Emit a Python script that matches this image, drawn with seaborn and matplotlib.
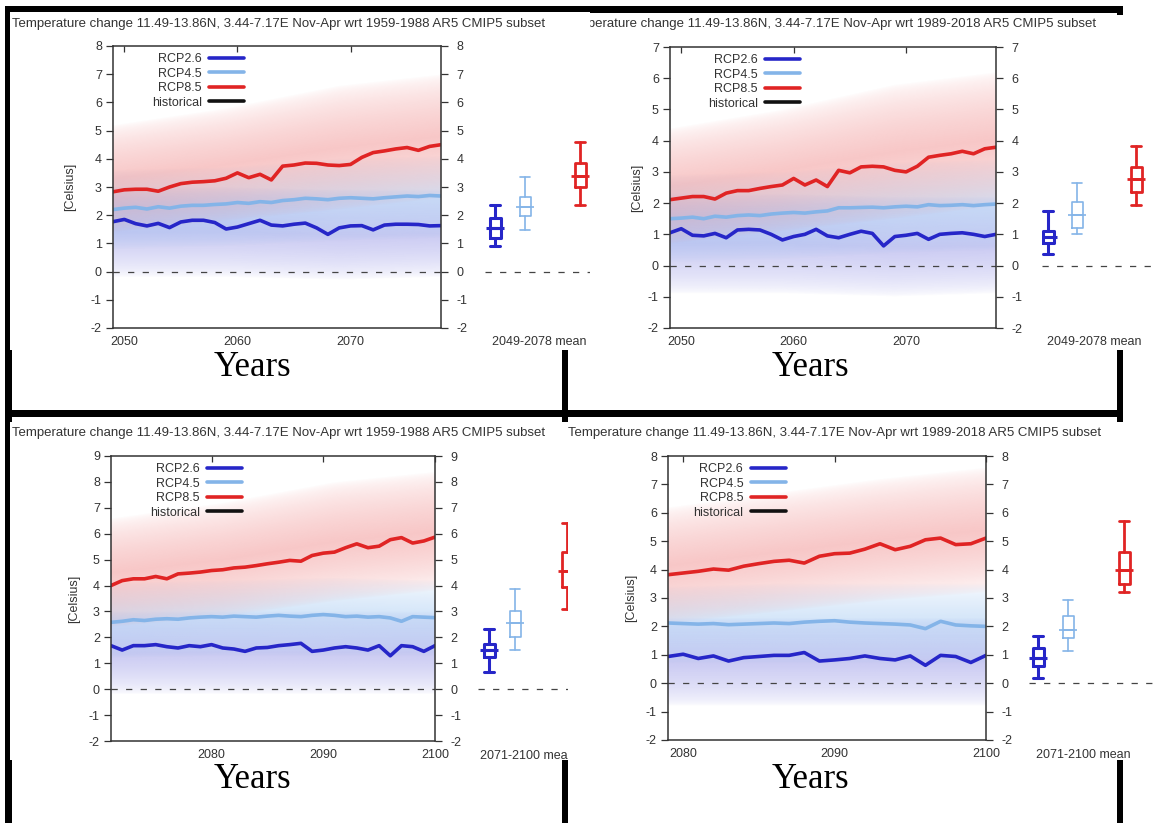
import matplotlib
matplotlib.use("Agg")
import matplotlib.pyplot as plt
from matplotlib.colors import to_rgb
from matplotlib.lines import Line2D
from matplotlib.patches import Rectangle
import numpy as np
import seaborn as sns

W, H = 1155, 823

# ---------------- data ----------------
tl_years = list(range(2049, 2079))
tl_rcp85 = [2.83, 2.90, 2.92, 2.92, 2.85, 3.00, 3.12, 3.17, 3.19, 3.22, 3.31, 3.50, 3.33, 3.45, 3.25,
            3.74, 3.78, 3.85, 3.84, 3.78, 3.76, 3.80, 4.05, 4.22, 4.28, 4.35, 4.40, 4.30, 4.44, 4.50]
tl_rcp45 = [2.20, 2.25, 2.28, 2.22, 2.30, 2.25, 2.32, 2.35, 2.35, 2.38, 2.40, 2.45, 2.42, 2.48, 2.45,
            2.52, 2.55, 2.60, 2.58, 2.55, 2.60, 2.62, 2.60, 2.58, 2.62, 2.65, 2.68, 2.66, 2.70, 2.68]
tl_rcp26 = [1.77, 1.85, 1.70, 1.62, 1.71, 1.56, 1.76, 1.82, 1.82, 1.74, 1.51, 1.58, 1.70, 1.82, 1.65,
            1.62, 1.68, 1.72, 1.55, 1.32, 1.55, 1.62, 1.63, 1.48, 1.65, 1.68, 1.68, 1.67, 1.62, 1.63]

tr_years = list(range(2049, 2079))
tr_rcp85 = [2.11, 2.16, 2.21, 2.21, 2.13, 2.32, 2.40, 2.40, 2.47, 2.53, 2.58, 2.79, 2.58, 2.74, 2.53,
            3.05, 2.97, 3.16, 3.18, 3.16, 3.05, 3.00, 3.18, 3.47, 3.53, 3.58, 3.66, 3.58, 3.74, 3.79]
tr_rcp45 = [1.50, 1.52, 1.55, 1.50, 1.58, 1.55, 1.60, 1.62, 1.60, 1.65, 1.68, 1.70, 1.68, 1.72, 1.75,
            1.85, 1.85, 1.86, 1.87, 1.85, 1.88, 1.90, 1.88, 1.95, 1.92, 1.93, 1.95, 1.92, 1.95, 1.97]
tr_rcp26 = [1.05, 1.18, 0.97, 0.95, 1.03, 0.89, 1.14, 1.16, 1.14, 1.00, 0.82, 0.93, 1.00, 1.16, 0.95,
            0.89, 1.00, 1.10, 1.03, 0.63, 0.93, 0.97, 1.03, 0.84, 1.00, 1.03, 1.05, 1.00, 0.93, 1.00]

bl_years = list(range(2071, 2101))
bl_rcp85 = [4.00, 4.19, 4.26, 4.26, 4.35, 4.26, 4.45, 4.48, 4.52, 4.58, 4.61, 4.68, 4.71, 4.77, 4.84,
            4.90, 4.97, 4.94, 5.16, 5.25, 5.29, 5.46, 5.61, 5.46, 5.52, 5.77, 5.85, 5.64, 5.72, 5.87]
bl_rcp45 = [2.58, 2.62, 2.68, 2.65, 2.70, 2.72, 2.70, 2.75, 2.78, 2.80, 2.78, 2.82, 2.80, 2.78, 2.82,
            2.85, 2.82, 2.80, 2.85, 2.88, 2.85, 2.80, 2.82, 2.78, 2.80, 2.75, 2.62, 2.80, 2.78, 2.76]
bl_rcp26 = [1.68, 1.51, 1.68, 1.68, 1.72, 1.64, 1.59, 1.68, 1.64, 1.72, 1.59, 1.55, 1.46, 1.59, 1.61,
            1.68, 1.72, 1.77, 1.46, 1.51, 1.59, 1.64, 1.59, 1.51, 1.68, 1.29, 1.68, 1.64, 1.46, 1.68]

br_years = list(range(2079, 2101))
br_rcp85 = [3.82, 3.88, 3.94, 4.02, 3.98, 4.12, 4.21, 4.29, 4.33, 4.23, 4.47, 4.56, 4.58, 4.72, 4.91,
            4.70, 4.82, 5.05, 5.11, 4.88, 4.91, 5.11]
br_rcp45 = [2.12, 2.10, 2.08, 2.10, 2.06, 2.08, 2.10, 2.12, 2.10, 2.15, 2.18, 2.20, 2.15, 2.12, 2.10,
            2.08, 2.05, 1.92, 2.18, 2.05, 2.02, 2.00]
br_rcp26 = [0.94, 1.02, 0.87, 0.96, 0.78, 0.90, 0.94, 0.98, 0.98, 1.08, 0.78, 0.82, 0.87, 0.96, 0.87,
            0.82, 0.96, 0.63, 0.98, 0.94, 0.73, 0.98]

# ensemble spread (rough envelope of the thin member lines)
tl_band_years = [2049, 2059, 2069, 2078]
tl_rcp85_lo, tl_rcp85_hi = [1.4, 1.8, 2.2, 2.6], [5.2, 5.8, 6.6, 7.0]
tl_rcp45_lo, tl_rcp45_hi = [0.8, 0.9, 1.1, 1.2], [3.6, 3.7, 4.0, 4.1]
tl_rcp26_lo, tl_rcp26_hi = [-0.2, -0.2, -0.3, -0.2], [3.0, 3.0, 2.9, 2.9]

tr_band_years = [2049, 2059, 2069, 2078]
tr_rcp85_lo, tr_rcp85_hi = [0.7, 1.1, 1.5, 1.9], [4.4, 5.0, 5.8, 6.2]
tr_rcp45_lo, tr_rcp45_hi = [0.1, 0.2, 0.4, 0.5], [2.9, 3.0, 3.3, 3.4]
tr_rcp26_lo, tr_rcp26_hi = [-0.9, -0.9, -1.0, -0.9], [2.3, 2.3, 2.2, 2.2]

bl_band_years = [2071, 2081, 2091, 2100]
bl_rcp85_lo, bl_rcp85_hi = [2.4, 2.8, 3.4, 3.8], [6.6, 7.2, 8.0, 8.4]
bl_rcp45_lo, bl_rcp45_hi = [1.2, 1.3, 1.3, 1.3], [4.1, 4.2, 4.3, 4.2]
bl_rcp26_lo, bl_rcp26_hi = [-0.2, -0.2, -0.2, -0.2], [3.0, 3.0, 3.0, 3.0]

br_band_years = [2079, 2086, 2093, 2100]
br_rcp85_lo, br_rcp85_hi = [2.1, 2.5, 2.9, 3.2], [6.2, 6.7, 7.2, 7.6]
br_rcp45_lo, br_rcp45_hi = [0.7, 0.7, 0.7, 0.7], [3.4, 3.5, 3.5, 3.5]
br_rcp26_lo, br_rcp26_hi = [-0.8, -0.8, -0.8, -0.8], [2.3, 2.3, 2.3, 2.3]

# box plots: whisker low, q1, median, q3, whisker high
tl_box = {"RCP2.6": [0.91, 1.19, 1.55, 1.90, 2.36], "RCP4.5": [1.48, 1.97, 2.29, 2.65, 3.35],
          "RCP8.5": [2.36, 3.00, 3.39, 3.85, 4.60]}
tr_box = {"RCP2.6": [0.37, 0.73, 0.90, 1.10, 1.74], "RCP4.5": [1.00, 1.21, 1.62, 2.02, 2.63],
          "RCP8.5": [1.94, 2.36, 2.77, 3.16, 3.83]}
bl_box = {"RCP2.6": [0.68, 1.23, 1.51, 1.74, 2.32], "RCP4.5": [1.51, 2.03, 2.54, 3.03, 3.87],
          "RCP8.5": [3.10, 3.94, 4.58, 5.30, 6.40]}
br_box = {"RCP2.6": [0.20, 0.60, 0.90, 1.24, 1.67], "RCP4.5": [1.13, 1.59, 1.88, 2.35, 2.93],
          "RCP8.5": [3.22, 3.51, 4.00, 4.62, 5.72]}

title_1959 = "Temperature change 11.49-13.86N, 3.44-7.17E Nov-Apr wrt 1959-1988 AR5 CMIP5 subset"
title_1989 = "Temperature change 11.49-13.86N, 3.44-7.17E Nov-Apr wrt 1989-2018 AR5 CMIP5 subset"

colors = {"RCP2.6": "#2626c8", "RCP4.5": "#84b4e8", "RCP8.5": "#e02424", "historical": "#111111"}
band_colors = {"RCP2.6": ("#5a5ad8", 0.32), "RCP4.5": ("#8fbdf0", 0.40), "RCP8.5": ("#ee7a7a", 0.42)}
box_lw = {"RCP2.6": 2.2, "RCP4.5": 1.2, "RCP8.5": 2.0}
TXT = "#333333"


def fig_rect(x0, y0, x1, y1):
    return [x0 / W, 1 - y1 / H, (x1 - x0) / W, (y1 - y0) / H]


def soft_band(ax, xs, lo, hi, color, amax, xlim, ylim):
    # haze standing in for the spaghetti of thin member lines: opaque in the
    # middle of the envelope, fading out towards its edges
    gx = np.linspace(xlim[0], xlim[1], 320)
    gy = np.linspace(ylim[0], ylim[1], 420)
    low = np.interp(gx, xs, lo)
    high = np.interp(gx, xs, hi)
    t = (gy[:, None] - low[None, :]) / (high - low)[None, :]
    a = np.clip(1 - np.abs(2 * t - 1), 0, 1) ** 0.6 * amax
    rgba = np.zeros((gy.size, gx.size, 4))
    rgba[..., :3] = to_rgb(color)
    rgba[..., 3] = a
    ax.imshow(rgba, extent=(xlim[0], xlim[1], ylim[0], ylim[1]), origin="lower",
              aspect="auto", interpolation="bilinear", zorder=1)


def draw_panel(fig, p):
    z = p["z"]
    ix0, iy0, ix1, iy1 = p["image"]
    bg = fig.add_axes(fig_rect(*p["image"]), zorder=z)
    bg.set_xlim(ix0, ix1)
    bg.set_ylim(iy1, iy0)
    bg.set_xticks([])
    bg.set_yticks([])
    for s in bg.spines.values():
        s.set_visible(False)
    bg.set_facecolor("white")
    bg.text(p["title_x"], p["title_y"], p["title"], fontsize=9.5, color=TXT,
            ha="left", va="center", clip_on=True)
    bg.text(p["box_label_x"], p["box_label_y"], p["box_label"], fontsize=9, color=TXT,
            ha="left", va="center", clip_on=True)

    ax = fig.add_axes(fig_rect(*p["axes"]), zorder=z + 0.1)
    ax.set_facecolor("white")
    for key in ["RCP2.6", "RCP4.5", "RCP8.5"]:
        c, a = band_colors[key]
        soft_band(ax, p["band_years"], p["lo"][key], p["hi"][key], c, a, p["xlim"], p["ylim"])
    ax.axhline(0, color="#444444", lw=0.9, ls=(0, (4.5, 6)), zorder=2)
    for key in ["RCP4.5", "RCP2.6", "RCP8.5"]:
        sns.lineplot(x=p["years"], y=p["mean"][key], ax=ax, color=colors[key], lw=2.6,
                     legend=False, zorder=3)

    ax.set_xlim(*p["xlim"])
    ax.set_ylim(*p["ylim"])
    ax.set_xticks(p["xticks"])
    ax.set_xticklabels([str(t) for t in p["xticks"]])
    ax.set_yticks(range(p["ylim"][0], p["ylim"][1] + 1))
    ax.set_xlabel("")
    ax.set_ylabel("[Celsius]", fontsize=9, color=TXT)
    ax.yaxis.set_label_coords((p["ylabel_x"] + 6 - p["axes"][0]) / (p["axes"][2] - p["axes"][0]), 0.5)
    ax.tick_params(axis="x", direction="in", top=True, length=4, width=0.9, pad=6,
                   labelsize=9, color="#333333", labelcolor=TXT)
    ax.tick_params(axis="y", direction="out", length=5, width=0.9, pad=3,
                   labelsize=9, color="#333333", labelcolor=TXT)
    for s in ax.spines.values():
        s.set_color("#333333")
        s.set_linewidth(1.1)
        s.set_zorder(4)

    ax2 = ax.twinx()
    ax2.set_ylim(*p["ylim"])
    ax2.set_yticks(range(p["ylim"][0], p["ylim"][1] + 1))
    ax2.tick_params(axis="y", direction="out", length=5, width=0.9, pad=6,
                    labelsize=9, color="#333333", labelcolor=TXT)
    for s in ax2.spines.values():
        s.set_visible(False)

    handles = [Line2D([], [], color=colors[k], lw=2.6) for k in colors]
    leg = ax.legend(handles, list(colors), loc="upper right", bbox_to_anchor=(p["legend_x"], 0.975),
                    frameon=False, markerfirst=False, fontsize=9, handlelength=2.8,
                    handletextpad=0.6, labelspacing=0.2, borderaxespad=0, borderpad=0)
    for t in leg.get_texts():
        t.set_color(TXT)

    bx0, by0, bx1, by1 = p["box"]
    bx = fig.add_axes(fig_rect(*p["box"]), zorder=z + 0.1)
    bx.set_xlim(0, bx1 - bx0)
    bx.set_ylim(*p["ylim"])
    bx.set_axis_off()
    bx.axhline(0, color="#444444", lw=0.9, ls=(0, (4.5, 6)))
    for key, pos in zip(["RCP2.6", "RCP4.5", "RCP8.5"], p["box_pos"]):
        lo, q1, med, q3, hi = p["boxes"][key]
        c, lw = colors[key], box_lw[key]
        props = dict(color=c, lw=lw)
        bx.bxp([dict(whislo=lo, q1=q1, med=med, q3=q3, whishi=hi)], positions=[pos],
               widths=11, capwidths=10, showfliers=False, boxprops=props,
               whiskerprops=props, capprops=props, medianprops=props)
        bx.hlines(med, pos - 9, pos + 9, color=c, lw=lw)

    fig.text(p["years_x"] / W, 1 - p["years_y"] / H, "Years", fontsize=25,
             family="Liberation Serif", ha="center", va="center", color="black")


sns.set_theme(style="white")
plt.rcParams["font.family"] = ["Liberation Sans", "DejaVu Sans"]
plt.rcParams["axes.unicode_minus"] = False
plt.rcParams["lines.scale_dashes"] = False

fig = plt.figure(figsize=(W / 100, H / 100), dpi=100)
fig.patch.set_facecolor("white")

# table cell borders behind the pasted images
for x0, y0, x1, y1 in [(5, 6, 1123, 13), (5, 410, 1123, 417), (5, 6, 12, 823),
                       (562, 6, 568, 823), (1117, 6, 1123, 823)]:
    fig.patches.append(Rectangle((x0 / W, 1 - y1 / H), (x1 - x0) / W, (y1 - y0) / H,
                                 transform=fig.transFigure, color="black", lw=0, zorder=0.5))

panels = [
    dict(z=3, image=(10, 12, 590, 350), axes=(113, 46, 441, 328), box=(485, 46, 590, 328),
         box_pos=[10, 40, 95], title=title_1959, title_x=12, title_y=24, ylabel_x=70,
         box_label="2049-2078 mean", box_label_x=492, box_label_y=342, years_x=252, years_y=368,
         legend_x=0.40, xlim=(2049, 2078), ylim=(-2, 8), xticks=[2050, 2060, 2070],
         years=tl_years, mean={"RCP2.6": tl_rcp26, "RCP4.5": tl_rcp45, "RCP8.5": tl_rcp85},
         band_years=tl_band_years,
         lo={"RCP2.6": tl_rcp26_lo, "RCP4.5": tl_rcp45_lo, "RCP8.5": tl_rcp85_lo},
         hi={"RCP2.6": tl_rcp26_hi, "RCP4.5": tl_rcp45_hi, "RCP8.5": tl_rcp85_hi}, boxes=tl_box),
    dict(z=1, image=(590, 15, 1155, 350), axes=(670, 47, 996, 328), box=(1042, 47, 1155, 328),
         box_pos=[6, 35, 94], title=title_1989, title_x=563, title_y=24, ylabel_x=637,
         box_label="2049-2078 mean", box_label_x=1047, box_label_y=342, years_x=810, years_y=368,
         legend_x=0.40, xlim=(2049, 2078), ylim=(-2, 7), xticks=[2050, 2060, 2070],
         years=tr_years, mean={"RCP2.6": tr_rcp26, "RCP4.5": tr_rcp45, "RCP8.5": tr_rcp85},
         band_years=tr_band_years,
         lo={"RCP2.6": tr_rcp26_lo, "RCP4.5": tr_rcp45_lo, "RCP8.5": tr_rcp85_lo},
         hi={"RCP2.6": tr_rcp26_hi, "RCP4.5": tr_rcp45_hi, "RCP8.5": tr_rcp85_hi}, boxes=tr_box),
    dict(z=1, image=(10, 422, 575, 760), axes=(111, 456, 435, 741), box=(478, 456, 600, 741),
         box_pos=[11, 37, 89], title=title_1959, title_x=12, title_y=433, ylabel_x=74,
         box_label="2071-2100 mean", box_label_x=480, box_label_y=756, years_x=252, years_y=780,
         legend_x=0.405, xlim=(2071, 2100), ylim=(-2, 9), xticks=[2080, 2090, 2100],
         years=bl_years, mean={"RCP2.6": bl_rcp26, "RCP4.5": bl_rcp45, "RCP8.5": bl_rcp85},
         band_years=bl_band_years,
         lo={"RCP2.6": bl_rcp26_lo, "RCP4.5": bl_rcp45_lo, "RCP8.5": bl_rcp85_lo},
         hi={"RCP2.6": bl_rcp26_hi, "RCP4.5": bl_rcp45_hi, "RCP8.5": bl_rcp85_hi}, boxes=bl_box),
    dict(z=3, image=(568, 422, 1155, 760), axes=(668, 456, 986, 740), box=(1029, 456, 1155, 740),
         box_pos=[9, 39, 95], title=title_1989, title_x=568, title_y=433, ylabel_x=631,
         box_label="2071-2100 mean", box_label_x=1036, box_label_y=755, years_x=810, years_y=780,
         legend_x=0.37, xlim=(2079, 2100), ylim=(-2, 8), xticks=[2080, 2090, 2100],
         years=br_years, mean={"RCP2.6": br_rcp26, "RCP4.5": br_rcp45, "RCP8.5": br_rcp85},
         band_years=br_band_years,
         lo={"RCP2.6": br_rcp26_lo, "RCP4.5": br_rcp45_lo, "RCP8.5": br_rcp85_lo},
         hi={"RCP2.6": br_rcp26_hi, "RCP4.5": br_rcp45_hi, "RCP8.5": br_rcp85_hi}, boxes=br_box),
]

for p in panels:
    draw_panel(fig, p)

fig.savefig("out.png", dpi=100, facecolor="white")
